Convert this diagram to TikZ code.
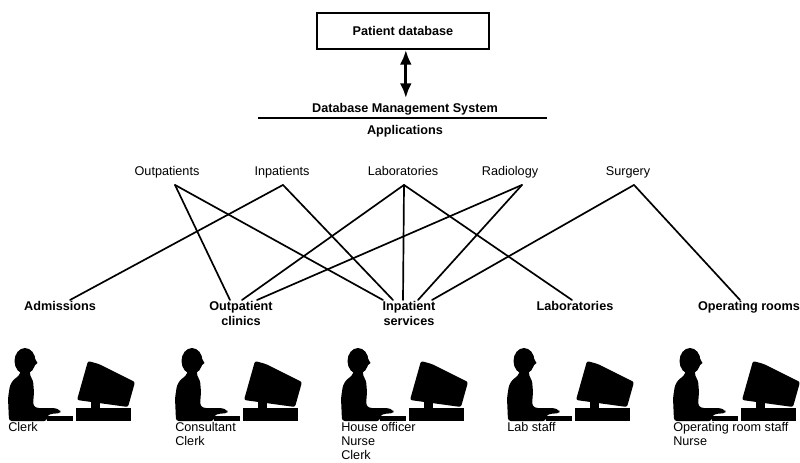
\documentclass[tikz,border=0pt]{standalone}
\usepackage{fontspec}
\setmainfont{Liberation Sans}
\usetikzlibrary{arrows.meta}

\begin{document}
\begin{tikzpicture}[
    x=0.025cm, y=-0.025cm,
    dbbox/.style={draw, rectangle, line width=1.2pt, minimum width=4.3cm, minimum height=0.9cm, font=\bfseries\fontsize{9}{11}\selectfont},
    hdr/.style={font=\bfseries\fontsize{9}{11}\selectfont},
    appl/.style={font=\fontsize{9}{11}\selectfont, text height=7pt, text depth=2pt, inner ysep=4.5pt},
    unit/.style={anchor=north, align=center, inner sep=1pt, font=\bfseries\fontsize{9}{10.5}\selectfont},
    staff/.style={anchor=north west, align=left, inner sep=0pt, font=\fontsize{9}{9.8}\selectfont},
    link/.style={line width=1.2pt, line cap=round},
    dbarrow/.style={{Latex[length=10.5pt,width=8.5pt]}-{Latex[length=10.5pt,width=8.5pt]}, line width=2.2pt},
    desk/.pic={
        % operator: head, nose, body with arm
        \fill (25,361) ellipse [x radius=10.5, y radius=13];
        \fill (34,357) -- (37.5,363) -- (34,366) -- cycle;
        \fill[rounded corners=2] (9,421) -- (8,398) -- (10,385) -- (14,379) -- (19,376) -- (21,370)
            -- (30,370) -- (30,376) -- (33,380) -- (34,392) -- (33,405) -- (36,408) -- (55,408)
            -- (60,410) -- (61,413) -- (50,414) -- (47,416) -- (47,421) -- cycle;
        % keyboard
        \fill (47,416) rectangle (73,421);
        % computer: base, stand, tilted monitor
        \fill (76,408) rectangle (131,421);
        \fill (91,401) rectangle (100,408);
        \fill[rounded corners=1.5] (77,400) -- (88,361) -- (99,364) -- (135,382) -- (128,407) -- cycle;
    }
]
\useasboundingbox (0,0) rectangle (800,462);

% 1. Database and DBMS layer
\node[dbbox] (pdb) at (403,31) {Patient database};
\node[hdr] (dbms) at (405,109) {Database Management System};
\node[hdr] (apps) at (405,131) {Applications};
\coordinate (bar_l) at (258,118);
\coordinate (bar_r) at (547,118);
\draw[line width=2pt] (bar_l) -- (bar_r);
\draw[dbarrow] ([xshift=2pt]pdb.south) -- ([xshift=2pt]pdb.south |- dbms.north);

% 2. Applications
\node[appl] (outp) at (167,172) {Outpatients};
\node[appl] (inp) at (282,172) {Inpatients};
\node[appl] (lab) at (403,172) {Laboratories};
\node[appl] (rad) at (510,172) {Radiology};
\node[appl] (surg) at (628,172) {Surgery};

% 3. Hospital units
\node[unit] (adm) at (60,300) {Admissions};
\node[unit] (clin) at (241,300) {Outpatient\\clinics};
\node[unit] (inpt) at (409,300) {Inpatient\\services};
\node[unit] (labs) at (575,300) {Laboratories};
\node[unit] (oprm) at (749,300) {Operating rooms};

% 4. Which application serves which unit
\draw[link] ([shift={(8,0)}]outp.south) -- ([shift={(-11,0)}]clin.north);
\draw[link] ([shift={(8,0)}]outp.south) -- ([shift={(-26,0)}]inpt.north);
\draw[link] ([shift={(1,0)}]inp.south) -- ([shift={(10,0)}]adm.north);
\draw[link] ([shift={(1,0)}]inp.south) -- ([shift={(-16,0)}]inpt.north);
\draw[link] ([shift={(1,0)}]lab.south) -- ([shift={(1,0)}]clin.north);
\draw[link] ([shift={(1,0)}]lab.south) -- ([shift={(-6,0)}]inpt.north);
\draw[link] ([shift={(1,0)}]lab.south) -- ([shift={(-3,0)}]labs.north);
\draw[link] ([shift={(12,0)}]rad.south) -- ([shift={(16,0)}]clin.north);
\draw[link] ([shift={(12,0)}]rad.south) -- ([shift={(9,0)}]inpt.north);
\draw[link] ([shift={(6,0)}]surg.south) -- ([shift={(23,0)}]inpt.north);
\draw[link] ([shift={(6,0)}]surg.south) -- ([shift={(-9,0)}]oprm.north);

% 5. Workstations and their users
\pic at (0,0) {desk};
\pic at (167,0) {desk};
\pic at (333,0) {desk};
\pic at (499,0) {desk};
\pic at (665,0) {desk};

\node[staff] (st_adm) at (8,422) {Clerk};
\node[staff] (st_clin) at (175,422) {Consultant\\Clerk};
\node[staff] (st_inpt) at (341,422) {House officer\\Nurse\\Clerk};
\node[staff] (st_labs) at (507,422) {Lab staff};
\node[staff] (st_oprm) at (673,422) {Operating room staff\\Nurse};

\end{tikzpicture}
\end{document}
